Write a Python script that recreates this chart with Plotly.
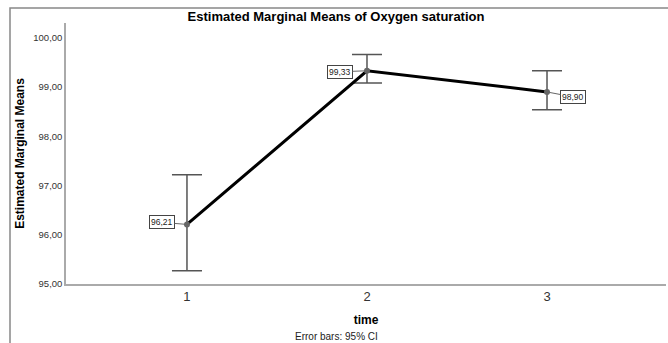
import plotly.graph_objects as go

time_cats = [1, 2, 3]
means = [96.21, 99.33, 98.90]
ci_upper = [97.22, 99.66, 99.33]
ci_lower = [95.27, 99.08, 98.54]
y_ticks = [95, 96, 97, 98, 99, 100]

err_plus = [u - m for u, m in zip(ci_upper, means)]
err_minus = [m - l for m, l in zip(means, ci_lower)]

def fmt(v):
    return f"{v:.2f}".replace(".", ",")

fig = go.Figure()
fig.add_trace(go.Scatter(
    x=time_cats, y=means, mode="lines+markers",
    line=dict(color="black", width=3),
    marker=dict(color="#666666", size=6),
    error_y=dict(type="data", symmetric=False, array=err_plus, arrayminus=err_minus,
                 color="#555555", thickness=1.5, width=15),
    showlegend=False, hoverinfo="skip",
))

offsets = [(-25, -2), (-27, 1), (26, 5)]
for x, m, (ax, ay) in zip(time_cats, means, offsets):
    fig.add_annotation(
        x=x, y=m, text=fmt(m), showarrow=True, arrowhead=0, arrowwidth=1,
        arrowcolor="#666666", ax=ax, ay=ay,
        bordercolor="#444444", borderwidth=1, borderpad=1, bgcolor="white",
        font=dict(family="Arial, Liberation Sans", size=8.5, color="#222222"),
    )

font_fam = "Arial, Liberation Sans, sans-serif"

W = 668
L, R = 66, 2
PW = W - L - R

fig.update_layout(
    width=W, height=343,
    margin=dict(l=L, r=R, t=23, b=59),
    paper_bgcolor="white", plot_bgcolor="white",
    title=dict(text="<b>Estimated Marginal Means of Oxygen saturation</b>",
               x=336/668, xanchor="center", y=1 - 16/343, yanchor="middle",
               font=dict(family=font_fam, size=13, color="black")),
    xaxis=dict(range=[0.328, 3.661], tickvals=time_cats, ticktext=[str(t) for t in time_cats],
               showgrid=False, zeroline=False, showline=True, linecolor="#aaaaaa", linewidth=1.5,
               ticks="", tickfont=dict(family=font_fam, size=13, color="#333333"),
               title=dict(text="<b>time</b>", font=dict(family=font_fam, size=12, color="black"),
                          standoff=12)),
    yaxis=dict(range=[95, 100.3], tickvals=y_ticks, ticktext=[fmt(v) for v in y_ticks],
               showgrid=False, zeroline=False, showline=True, linecolor="#aaaaaa", linewidth=1.5,
               ticks="", tickfont=dict(family=font_fam, size=9.5, color="#333333"),
               title=dict(text="<b>Estimated Marginal Means</b>",
                          font=dict(family=font_fam, size=12, color="black"), standoff=6)),
)

fig.add_annotation(text="Error bars: 95% CI", xref="paper", yref="paper",
                   x=(336 - L) / PW, y=(284 - 336) / 261, showarrow=False,
                   xanchor="center", yanchor="middle",
                   font=dict(family=font_fam, size=10, color="#222222"))

# outer frame (top and left edges) plus x-axis line extension to the right edge
x_left = (10 - L) / PW
x_right = (W - L) / PW
y_top = (284 - 8) / 261
y_bot = (284 - 343) / 261
fig.add_shape(type="path", xref="paper", yref="paper",
              path=f"M {x_left},{y_bot} L {x_left},{y_top} L {x_right},{y_top}",
              line=dict(color="#888888", width=1.5))

fig.write_html("out.html")
